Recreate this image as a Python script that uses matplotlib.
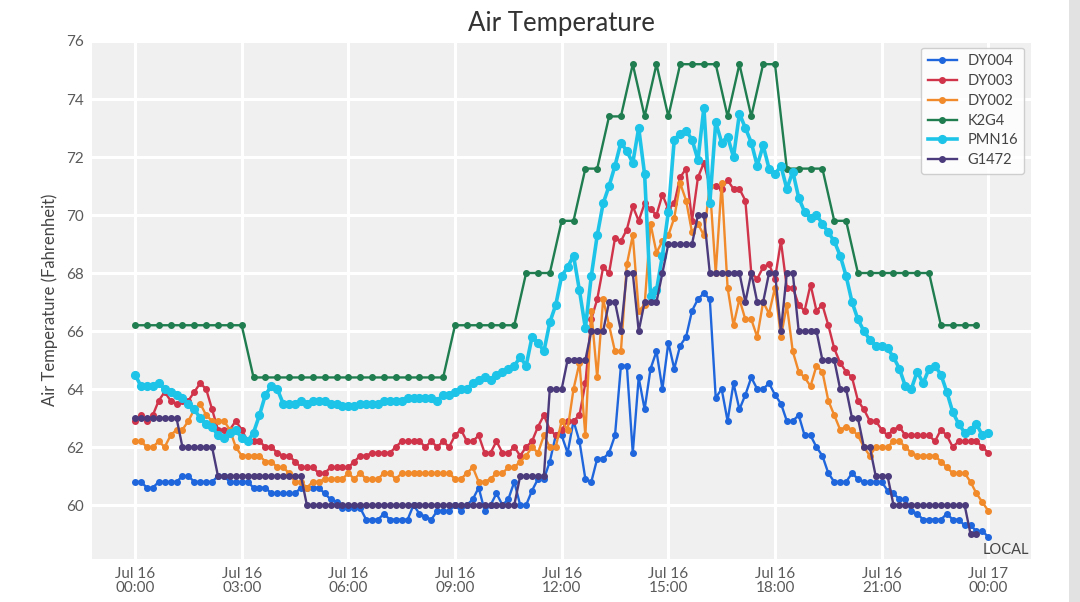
import numpy as np
import pandas as pd
import matplotlib
matplotlib.use('Agg')
import matplotlib.pyplot as plt
import matplotlib.dates as mdates
from matplotlib.patches import Rectangle

# station readings, 10 minute steps from Jul 16 00:00 (one row = one hour)
dy004 = [
    60.8, 60.8, 60.6, 60.6, 60.8, 60.8,
    60.8, 60.8, 61.0, 61.0, 60.8, 60.8,
    60.8, 60.8, 61.0, 61.0, 60.8, 60.8,
    60.8, 60.8, 60.6, 60.6, 60.6, 60.4,
    60.4, 60.4, 60.4, 60.4, 60.6, 60.6,
    60.6, 60.6, 60.4, 60.2, 60.1, 59.9,
    59.9, 59.9, 59.9, 59.5, 59.5, 59.5,
    59.7, 59.5, 59.5, 59.5, 59.5, 60.0,
    59.7, 59.6, 59.5, 59.8, 59.8, 59.8,
    60.0, 59.8, 60.0, 60.2, 60.6, 59.8,
    60.0, 60.4, 60.0, 60.2, 60.8, 60.0,
    60.0, 60.5, 60.9, 60.9, 61.5, 62.4,
    62.4, 61.8, 62.9, 62.2, 60.9, 60.8,
    61.6, 61.6, 61.8, 62.4, 64.8, 64.8,
    61.8, 64.4, 63.3, 64.7, 65.3, 64.0,
    65.6, 64.7, 65.5, 65.8, 66.7, 67.1,
    67.3, 67.1, 63.7, 64.0, 62.9, 64.2,
    63.3, 63.8, 64.4, 64.0, 64.0, 64.2,
    63.8, 63.5, 62.9, 62.9, 63.1, 62.4,
    62.4, 62.0, 61.7, 61.1, 60.8, 60.8,
    60.8, 61.1, 60.9, 60.8, 60.8, 60.8,
    60.8, 60.5, 60.4, 60.2, 60.2, 59.8,
    59.7, 59.5, 59.5, 59.5, 59.5, 59.7,
    59.5, 59.5, 59.3, 59.3, 59.1, 59.1,
    58.9,
]

dy003 = [
    62.9, 63.1, 62.9, 63.1, 63.6, 63.9,
    63.6, 63.5, 63.6, 63.6, 63.9, 64.2,
    64.0, 63.3, 62.6, 62.6, 62.6, 62.9,
    62.6, 62.2, 62.2, 62.2, 62.0, 62.0,
    61.8, 61.7, 61.7, 61.5, 61.3, 61.3,
    61.3, 61.1, 61.1, 61.3, 61.3, 61.3,
    61.3, 61.5, 61.7, 61.7, 61.8, 61.8,
    61.8, 61.8, 62.0, 62.2, 62.2, 62.2,
    62.2, 62.0, 62.2, 62.0, 62.2, 62.0,
    62.4, 62.6, 62.2, 62.2, 62.4, 61.8,
    61.8, 62.2, 61.8, 61.8, 62.0, 61.7,
    62.0, 62.2, 62.7, 63.1, 62.6, 62.4,
    62.6, 62.9, 62.9, 63.1, 64.2, 66.4,
    67.1, 68.2, 68.0, 69.2, 69.1, 69.5,
    70.3, 69.8, 70.4, 70.2, 70.0, 70.7,
    70.2, 70.4, 71.3, 71.6, 69.8, 71.3,
    71.8, 71.0, 71.0, 70.9, 71.2, 70.9,
    70.9, 70.5, 68.0, 67.8, 68.2, 68.3,
    67.8, 69.1, 67.5, 67.5, 66.9, 66.7,
    67.6, 66.7, 66.9, 66.2, 65.4, 64.9,
    64.6, 64.4, 63.6, 63.3, 62.9, 62.9,
    62.6, 62.4, 62.6, 62.7, 62.4, 62.4,
    62.4, 62.4, 62.4, 62.2, 62.6, 62.4,
    62.0, 62.2, 62.2, 62.2, 62.2, 62.0,
    61.8,
]

dy002 = [
    62.2, 62.2, 62.0, 62.0, 62.2, 62.0,
    62.4, 62.6, 62.6, 62.9, 63.3, 63.5,
    63.1, 62.9, 62.9, 62.9, 62.6, 62.0,
    61.7, 61.7, 61.7, 61.7, 61.5, 61.5,
    61.3, 61.3, 61.1, 60.8, 60.8, 60.6,
    60.8, 60.8, 60.9, 60.9, 60.9, 60.9,
    61.1, 60.9, 61.1, 60.9, 60.9, 60.9,
    61.1, 61.1, 60.9, 61.1, 61.1, 61.1,
    61.1, 61.1, 61.1, 61.1, 61.1, 61.1,
    60.9, 60.9, 61.1, 61.3, 60.8, 60.8,
    60.9, 61.1, 61.1, 61.3, 61.3, 61.5,
    61.7, 62.0, 61.8, 62.4, 62.0, 62.0,
    62.9, 62.6, 64.0, 64.9, 62.4, 66.7,
    64.4, 67.1, 66.2, 65.3, 65.3, 68.3,
    69.3, 66.7, 66.9, 69.7, 68.7, 69.1,
    69.3, 69.9, 71.1, 70.5, 69.4, 69.7,
    69.3, 71.0, 68.0, 71.1, 67.5, 66.2,
    67.1, 66.4, 66.4, 65.8, 67.0, 66.6,
    67.5, 65.8, 66.9, 65.3, 64.6, 64.4,
    64.1, 64.8, 64.6, 63.6, 63.1, 62.6,
    62.7, 62.6, 62.4, 62.0, 61.7, 62.0,
    62.0, 62.0, 62.2, 62.2, 62.0, 61.8,
    61.7, 61.7, 61.7, 61.7, 61.5, 61.3,
    61.1, 61.1, 61.1, 60.8, 60.4, 60.1,
    59.8,
]

pmn16 = [
    64.5, 64.1, 64.1, 64.1, 64.2, 64.0,
    63.9, 63.8, 63.7, 63.5, 63.3, 63.0,
    62.8, 62.7, 62.4, 62.3, 62.5, 62.6,
    62.3, 62.2, 62.5, 63.1, 63.8, 64.1,
    64.0, 63.5, 63.5, 63.5, 63.6, 63.5,
    63.6, 63.6, 63.6, 63.5, 63.5, 63.4,
    63.4, 63.4, 63.5, 63.5, 63.5, 63.5,
    63.6, 63.6, 63.6, 63.6, 63.7, 63.7,
    63.7, 63.7, 63.7, 63.6, 63.8, 63.8,
    63.9, 64.0, 64.0, 64.2, 64.3, 64.4,
    64.3, 64.5, 64.6, 64.7, 64.8, 65.1,
    64.8, 65.8, 65.6, 65.3, 66.3, 66.9,
    67.9, 68.2, 68.6, 67.4, 66.1, 67.9,
    69.3, 70.4, 71.0, 71.7, 72.5, 72.2,
    71.8, 73.0, 71.4, 67.2, 67.4, 68.6,
    70.1, 72.6, 72.8, 72.9, 72.6, 71.9,
    73.7, 70.4, 73.2, 72.5, 72.7, 72.0,
    73.5, 73.0, 72.5, 71.7, 72.4, 71.6,
    71.4, 71.7, 70.9, 71.5, 70.6, 70.1,
    69.9, 70.0, 69.7, 69.4, 69.1, 68.6,
    67.9, 67.0, 66.4, 66.0, 65.7, 65.5,
    65.5, 65.4, 65.1, 64.7, 64.1, 64.0,
    64.6, 64.2, 64.7, 64.8, 64.5, 63.9,
    63.2, 62.8, 62.5, 62.6, 62.8, 62.4,
    62.5,
]

g1472 = [
    63.0, 63.0, 63.0, 63.0, 63.0, 63.0,
    63.0, 63.0, 62.0, 62.0, 62.0, 62.0,
    62.0, 62.0, 61.0, 61.0, 61.0, 61.0,
    61.0, 61.0, 61.0, 61.0, 61.0, 61.0,
    61.0, 61.0, 61.0, 61.0, 61.0, 60.0,
    60.0, 60.0, 60.0, 60.0, 60.0, 60.0,
    60.0, 60.0, 60.0, 60.0, 60.0, 60.0,
    60.0, 60.0, 60.0, 60.0, 60.0, 60.0,
    60.0, 60.0, 60.0, 60.0, 60.0, 60.0,
    60.0, 60.0, 60.0, 60.0, 60.0, 60.0,
    60.0, 60.0, 60.0, 60.0, 60.0, 61.0,
    61.0, 61.0, 61.0, 61.0, 64.0, 64.0,
    64.0, 65.0, 65.0, 65.0, 65.0, 66.0,
    66.0, 66.0, 67.0, 67.0, 66.0, 68.0,
    68.0, 66.0, 67.0, 67.0, 67.0, 68.0,
    69.0, 69.0, 69.0, 69.0, 69.0, 70.0,
    70.0, 68.0, 68.0, 68.0, 68.0, 68.0,
    68.0, 67.0, 68.0, 67.0, 67.0, 68.0,
    68.0, 66.0, 68.0, 68.0, 66.0, 66.0,
    66.0, 66.0, 65.0, 65.0, 65.0, 64.0,
    64.0, 63.0, 63.0, 62.0, 62.0, 61.0,
    61.0, 61.0, 60.0, 60.0, 60.0, 60.0,
    60.0, 60.0, 60.0, 60.0, 60.0, 60.0,
    60.0, 60.0, 60.0, 59.0, 59.0,
]

# K2G4 reports every 20 minutes
k2g4 = (
    [66.2] * 10 + [64.4] * 17 + [66.2] * 6 + [68.0] * 3 + [69.8] * 2 + [71.6] * 2 + [73.4] * 2
    + [75.2, 73.4, 75.2, 73.4, 75.2, 75.2, 75.2, 75.2, 73.4, 75.2, 73.4, 75.2, 75.2]
    + [71.6] * 4 + [69.8] * 2 + [68.0] * 7 + [66.2] * 4
)

start = pd.Timestamp('2023-07-16 00:00')

series = [
    ('DY004', dy004, '10min', '#1f66dc'),
    ('DY003', dy003, '10min', '#d0344a'),
    ('DY002', dy002, '10min', '#f08a2a'),
    ('K2G4', k2g4, '20min', '#1f7d4f'),
    ('PMN16', pmn16, '10min', '#1ec3e8'),
    ('G1472', g1472, '10min', '#4b3b7c'),
]

plt.rcParams['font.family'] = ['Lato', 'DejaVu Sans']

fig = plt.figure(figsize=(10.8, 6.02), dpi=100)
ax = fig.add_axes([0.0852, 0.0714, 0.8694, 0.8605])
ax.set_facecolor('#f0f0f0')

for name, vals, freq, color in series:
    t = pd.date_range(start, periods=len(vals), freq=freq)
    if name == 'PMN16':
        ax.plot(t, vals, color=color, lw=2.6, marker='o', ms=5.6, label=name, zorder=3)
    else:
        ax.plot(t, vals, color=color, lw=1.7, marker='o', ms=4.0, label=name, zorder=3)

ax.set_ylim(58.14, 76)
ax.set_yticks(np.arange(60, 77, 2))
x0 = start - pd.Timedelta(hours=1.21)
x1 = start + pd.Timedelta(hours=25.2)
ax.set_xlim(x0, x1)
ax.xaxis.set_major_locator(mdates.HourLocator(byhour=range(0, 24, 3)))
ax.xaxis.set_major_formatter(mdates.DateFormatter('%b %d\n%H:%M'))

ax.grid(True, color='white', lw=2.2)
ax.set_axisbelow(True)
for s in ax.spines.values():
    s.set_visible(False)
ax.tick_params(length=0, labelsize=11, colors='#5a5a5a', pad=6)
for lab in ax.get_xticklabels():
    lab.set_linespacing(1.0)

ax.set_title('Air Temperature', fontsize=18.5, color='#333333', pad=7)
ax.set_ylabel('Air Temperature (Fahrenheit)', fontsize=12, color='#444444', labelpad=6)
ax.text(0.998, 0.003, 'LOCAL', transform=ax.transAxes, ha='right', va='bottom',
        fontsize=10.5, color='#444444')

leg = ax.legend(loc='upper right', fontsize=10.5, frameon=True, fancybox=True,
                handlelength=2.0, handletextpad=0.7, borderpad=0.45, labelspacing=0.4,
                bbox_to_anchor=(1.0, 1.0), borderaxespad=0.45)
leg.get_frame().set_facecolor('white')
leg.get_frame().set_alpha(0.85)
leg.get_frame().set_edgecolor('#c8c8c8')
for txt in leg.get_texts():
    txt.set_color('#444444')

# screenshot edge on the right
fig.patches.append(Rectangle((1069 / 1080, 0), 11 / 1080, 1, transform=fig.transFigure,
                             facecolor='#e2e2e2', edgecolor='none'))

fig.savefig('out.png', dpi=100)
